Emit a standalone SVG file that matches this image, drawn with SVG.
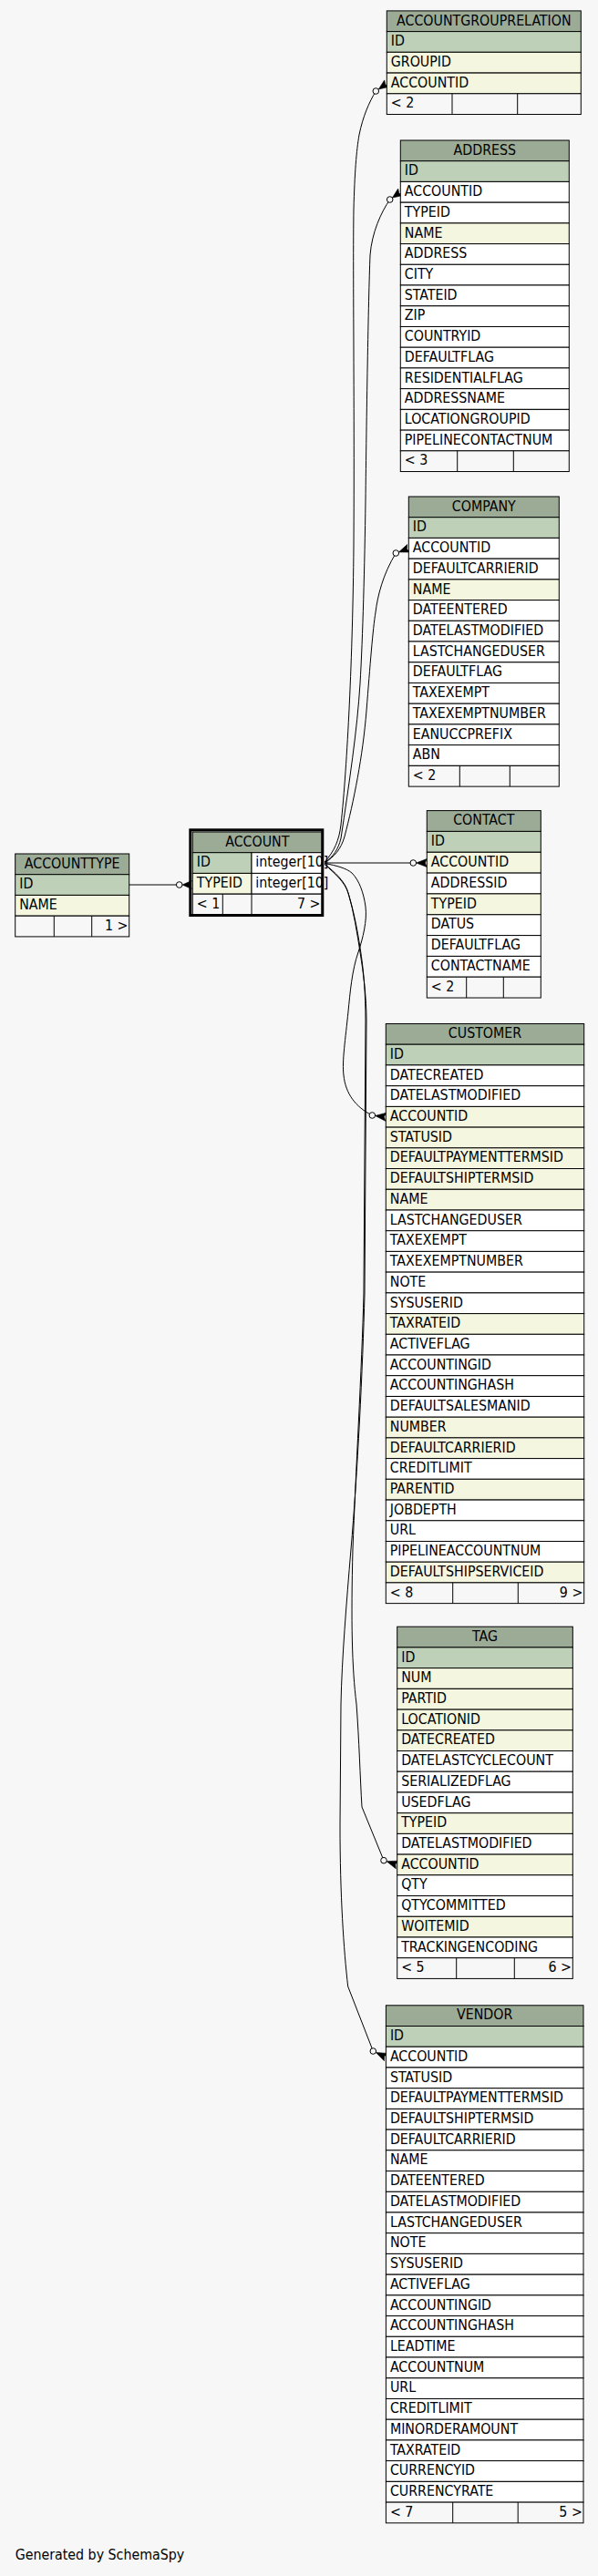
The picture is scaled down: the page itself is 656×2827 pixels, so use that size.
<svg xmlns="http://www.w3.org/2000/svg" width="656" height="2827" viewBox="0 0 656 2827">
<style>
rect{stroke:#000;stroke-width:1}
line{stroke:#000;stroke-width:1}
.h{fill:#9bab96}.k{fill:#bed1b8}.i{fill:#f4f6df}.w{fill:#fff}.f{fill:#f7f7f7}
text{font-family:"DejaVu Sans Condensed","DejaVu Sans",sans-serif;font-stretch:condensed;font-size:15.8px;fill:#000}
.c{text-anchor:middle}.r{text-anchor:end}
#edges path.l{fill:none;stroke:#000;stroke-width:1}
#edges path.cr{fill:#000;stroke:#000;stroke-width:0.6;stroke-linejoin:round}
#edges circle{fill:#f7f7f7;stroke:#000;stroke-width:1}
</style>
<rect x="0" y="0" width="656" height="2827" fill="#f7f7f7" style="stroke:none"/>

<g id="edges">
<path class="l" d="M141.7,971 L196.7,971"/>
<path class="l" d="M356,946 C367,934 372,922 374,905 C381,840 387,720 388,600 C389,450 387,300 388,230 C389,190 391,165 394,148 C398,128 405,112 412.3,100"/>
<path class="l" d="M356,946.5 C366,940 371,932 374,920 C383,860 392,800 395,750 C398,700 400,620 401,550 C402,460 404,330 406,280 C408,255 418,233 427.7,219"/>
<path class="l" d="M356,947 C367,940 374,932 378,918 C388,880 398,830 402,780 C406,730 409,690 412,672 C414,655 420,630 434.3,607"/>
<path class="l" d="M356,947 L453.3,947"/>
<path class="l" d="M356,947.5 C370,950 380,953 386,958 C394,966 399,980 401,995 C403,1010 398,1030 393,1045 C386,1065 384,1090 382,1110 C379,1140 375,1165 377,1180 C379,1200 390,1215 408.3,1224"/>
<path class="l" d="M356,948 C368,958 377,966 381,977 C387,995 392,1020 395,1040 C399,1065 401,1090 401,1120 L399,1420 C397,1500 390,1620 387,1700 C385,1780 386,1830 391,1870 C394,1910 395,1950 397,1983 L421,2041.7"/>
<path class="l" d="M356,948.5 C369,960 378,968 382,980 C388,1000 392,1025 395,1045 C399,1070 402,1095 402,1120 L400,1420 C398,1500 392,1620 385,1700 C380,1760 375,1820 374,1870 L373,2003 C373,2080 377,2140 381.7,2180 L409.3,2251"/>
<circle cx="196.7" cy="971" r="3.3"/>
<circle cx="412.3" cy="100" r="3.3"/>
<circle cx="427.7" cy="219" r="3.3"/>
<circle cx="434.3" cy="607" r="3.3"/>
<circle cx="453.3" cy="947" r="3.3"/>
<circle cx="408.3" cy="1224" r="3.3"/>
<circle cx="421" cy="2041.7" r="3.3"/>
<circle cx="409.3" cy="2251" r="3.3"/>
<path class="cr" d="M200,971 L210.3,975.5 L208.3,971 L210.3,966.5 Z"/>
<path class="cr" d="M415.3,97.9 L426.9,95.3 L422.7,92.7 L421.7,87.9 Z"/>
<path class="cr" d="M430.4,217.1 L441.9,214.5 L437.7,212 L436.7,207.1 Z"/>
<path class="cr" d="M437.4,605.9 L449.9,606 L446.4,602.5 L446.7,597.6 Z"/>
<path class="cr" d="M456.6,947 L468.3,951.5 L466.3,947 L468.3,942.5 Z"/>
<path class="cr" d="M411.6,1224.4 L422.8,1230.3 L421.3,1225.6 L423.8,1221.3 Z"/>
<path class="cr" d="M424.1,2042.7 L434.3,2050.8 L433.8,2045.9 L437.1,2042.2 Z"/>
<path class="cr" d="M412.3,2252.4 L421.5,2261.7 L421.6,2256.8 L425.3,2253.5 Z"/>
</g>

<g id="ACCOUNTGROUPRELATION">
<rect class="h" x="424.3" y="11.9" width="213" height="22.72"/>
<rect class="k" x="424.3" y="34.6" width="213" height="22.72"/>
<rect class="i" x="424.3" y="57.3" width="213" height="22.72"/>
<rect class="i" x="424.3" y="80.1" width="213" height="22.72"/>
<rect class="f" x="424.3" y="102.8" width="213" height="22.72"/>
<line x1="496" y1="102.8" x2="496" y2="125.5"/><line x1="567.7" y1="102.8" x2="567.7" y2="125.5"/>
<text class="c" x="530.8" y="27.5">ACCOUNTGROUPRELATION</text>
<text x="428.8" y="50.2">ID</text>
<text x="428.8" y="72.9">GROUPID</text>
<text x="428.8" y="95.7">ACCOUNTID</text>
<text x="428.8" y="118.4">&lt; 2</text>
</g>

<g id="ADDRESS">
<rect class="h" x="439.3" y="154" width="185" height="22.72"/>
<rect class="k" x="439.3" y="176.7" width="185" height="22.72"/>
<rect class="w" x="439.3" y="199.4" width="185" height="22.72"/>
<rect class="w" x="439.3" y="222.2" width="185" height="22.72"/>
<rect class="i" x="439.3" y="244.9" width="185" height="22.72"/>
<rect class="w" x="439.3" y="267.6" width="185" height="22.72"/>
<rect class="w" x="439.3" y="290.3" width="185" height="22.72"/>
<rect class="w" x="439.3" y="313" width="185" height="22.72"/>
<rect class="w" x="439.3" y="335.8" width="185" height="22.72"/>
<rect class="w" x="439.3" y="358.5" width="185" height="22.72"/>
<rect class="w" x="439.3" y="381.2" width="185" height="22.72"/>
<rect class="w" x="439.3" y="403.9" width="185" height="22.72"/>
<rect class="w" x="439.3" y="426.6" width="185" height="22.72"/>
<rect class="w" x="439.3" y="449.4" width="185" height="22.72"/>
<rect class="w" x="439.3" y="472.1" width="185" height="22.72"/>
<rect class="f" x="439.3" y="494.8" width="185" height="22.72"/>
<line x1="501.7" y1="494.8" x2="501.7" y2="517.5"/><line x1="563.3" y1="494.8" x2="563.3" y2="517.5"/>
<text class="c" x="531.8" y="169.6">ADDRESS</text>
<text x="443.8" y="192.3">ID</text>
<text x="443.8" y="215">ACCOUNTID</text>
<text x="443.8" y="237.8">TYPEID</text>
<text x="443.8" y="260.5">NAME</text>
<text x="443.8" y="283.2">ADDRESS</text>
<text x="443.8" y="305.9">CITY</text>
<text x="443.8" y="328.6">STATEID</text>
<text x="443.8" y="351.4">ZIP</text>
<text x="443.8" y="374.1">COUNTRYID</text>
<text x="443.8" y="396.8">DEFAULTFLAG</text>
<text x="443.8" y="419.5">RESIDENTIALFLAG</text>
<text x="443.8" y="442.2">ADDRESSNAME</text>
<text x="443.8" y="465">LOCATIONGROUPID</text>
<text x="443.8" y="487.7">PIPELINECONTACTNUM</text>
<text x="443.8" y="510.4">&lt; 3</text>
</g>

<g id="COMPANY">
<rect class="h" x="448.3" y="545" width="165" height="22.72"/>
<rect class="k" x="448.3" y="567.7" width="165" height="22.72"/>
<rect class="w" x="448.3" y="590.4" width="165" height="22.72"/>
<rect class="w" x="448.3" y="613.2" width="165" height="22.72"/>
<rect class="i" x="448.3" y="635.9" width="165" height="22.72"/>
<rect class="w" x="448.3" y="658.6" width="165" height="22.72"/>
<rect class="w" x="448.3" y="681.3" width="165" height="22.72"/>
<rect class="w" x="448.3" y="704" width="165" height="22.72"/>
<rect class="w" x="448.3" y="726.8" width="165" height="22.72"/>
<rect class="w" x="448.3" y="749.5" width="165" height="22.72"/>
<rect class="w" x="448.3" y="772.2" width="165" height="22.72"/>
<rect class="w" x="448.3" y="794.9" width="165" height="22.72"/>
<rect class="w" x="448.3" y="817.6" width="165" height="22.72"/>
<rect class="f" x="448.3" y="840.4" width="165" height="22.72"/>
<line x1="504.3" y1="840.4" x2="504.3" y2="863.1"/><line x1="559.3" y1="840.4" x2="559.3" y2="863.1"/>
<text class="c" x="530.8" y="560.6">COMPANY</text>
<text x="452.8" y="583.3">ID</text>
<text x="452.8" y="606">ACCOUNTID</text>
<text x="452.8" y="628.8">DEFAULTCARRIERID</text>
<text x="452.8" y="651.5">NAME</text>
<text x="452.8" y="674.2">DATEENTERED</text>
<text x="452.8" y="696.9">DATELASTMODIFIED</text>
<text x="452.8" y="719.6">LASTCHANGEDUSER</text>
<text x="452.8" y="742.4">DEFAULTFLAG</text>
<text x="452.8" y="765.1">TAXEXEMPT</text>
<text x="452.8" y="787.8">TAXEXEMPTNUMBER</text>
<text x="452.8" y="810.5">EANUCCPREFIX</text>
<text x="452.8" y="833.2">ABN</text>
<text x="452.8" y="856">&lt; 2</text>
</g>

<g id="ACCOUNTTYPE">
<rect class="h" x="16.7" y="937" width="125" height="22.72"/>
<rect class="k" x="16.7" y="959.7" width="125" height="22.72"/>
<rect class="i" x="16.7" y="982.4" width="125" height="22.72"/>
<rect class="f" x="16.7" y="1005.2" width="125" height="22.72"/>
<line x1="59.3" y1="1005.2" x2="59.3" y2="1027.9"/><line x1="100.7" y1="1005.2" x2="100.7" y2="1027.9"/>
<text class="c" x="79.2" y="952.6">ACCOUNTTYPE</text>
<text x="21.2" y="975.3">ID</text>
<text x="21.2" y="998">NAME</text>
<text class="r" x="140.5" y="1020.8">1 &gt;</text>
</g>

<g id="ACCOUNT">
<rect class="h" x="211.3" y="913" width="142" height="22.72"/>
<rect class="k" x="211.3" y="935.7" width="64.7" height="22.72"/>
<rect class="w" x="276" y="935.7" width="77.3" height="22.72"/>
<rect class="i" x="211.3" y="958.4" width="64.7" height="22.72"/>
<rect class="w" x="276" y="958.4" width="77.3" height="22.72"/>
<rect class="f" x="211.3" y="981.2" width="142" height="22.72"/>
<line x1="244.3" y1="981.2" x2="244.3" y2="1003.9"/><line x1="276" y1="981.2" x2="276" y2="1003.9"/>
<rect x="208.8" y="910.8" width="145" height="93.7" fill="none" style="stroke-width:3"/>
<text class="c" x="282.3" y="928.6">ACCOUNT</text>
<text x="215.8" y="951.3">ID</text>
<text x="280.3" y="951.3">integer[10]</text>
<text x="215.8" y="974">TYPEID</text>
<text x="280.3" y="974">integer[10]</text>
<text x="215.8" y="996.8">&lt; 1</text>
<text class="r" x="351.5" y="996.8">7 &gt;</text>
</g>

<g id="CONTACT">
<rect class="h" x="468.3" y="889.6" width="125" height="22.83"/>
<rect class="k" x="468.3" y="912.4" width="125" height="22.83"/>
<rect class="i" x="468.3" y="935.3" width="125" height="22.83"/>
<rect class="w" x="468.3" y="958.1" width="125" height="22.83"/>
<rect class="i" x="468.3" y="980.9" width="125" height="22.83"/>
<rect class="w" x="468.3" y="1003.8" width="125" height="22.83"/>
<rect class="w" x="468.3" y="1026.6" width="125" height="22.83"/>
<rect class="w" x="468.3" y="1049.4" width="125" height="22.83"/>
<rect class="f" x="468.3" y="1072.2" width="125" height="22.83"/>
<line x1="511.7" y1="1072.2" x2="511.7" y2="1095.1"/><line x1="552.3" y1="1072.2" x2="552.3" y2="1095.1"/>
<text class="c" x="530.8" y="905.2">CONTACT</text>
<text x="472.8" y="928">ID</text>
<text x="472.8" y="950.9">ACCOUNTID</text>
<text x="472.8" y="973.7">ADDRESSID</text>
<text x="472.8" y="996.5">TYPEID</text>
<text x="472.8" y="1019.4">DATUS</text>
<text x="472.8" y="1042.2">DEFAULTFLAG</text>
<text x="472.8" y="1065">CONTACTNAME</text>
<text x="472.8" y="1087.8">&lt; 2</text>
</g>

<g id="CUSTOMER">
<rect class="h" x="423.3" y="1123.5" width="217.4" height="22.72"/>
<rect class="k" x="423.3" y="1146.2" width="217.4" height="22.72"/>
<rect class="w" x="423.3" y="1168.9" width="217.4" height="22.72"/>
<rect class="w" x="423.3" y="1191.7" width="217.4" height="22.72"/>
<rect class="i" x="423.3" y="1214.4" width="217.4" height="22.72"/>
<rect class="i" x="423.3" y="1237.1" width="217.4" height="22.72"/>
<rect class="i" x="423.3" y="1259.8" width="217.4" height="22.72"/>
<rect class="i" x="423.3" y="1282.5" width="217.4" height="22.72"/>
<rect class="i" x="423.3" y="1305.3" width="217.4" height="22.72"/>
<rect class="w" x="423.3" y="1328" width="217.4" height="22.72"/>
<rect class="w" x="423.3" y="1350.7" width="217.4" height="22.72"/>
<rect class="w" x="423.3" y="1373.4" width="217.4" height="22.72"/>
<rect class="w" x="423.3" y="1396.1" width="217.4" height="22.72"/>
<rect class="w" x="423.3" y="1418.9" width="217.4" height="22.72"/>
<rect class="i" x="423.3" y="1441.6" width="217.4" height="22.72"/>
<rect class="w" x="423.3" y="1464.3" width="217.4" height="22.72"/>
<rect class="w" x="423.3" y="1487" width="217.4" height="22.72"/>
<rect class="w" x="423.3" y="1509.7" width="217.4" height="22.72"/>
<rect class="w" x="423.3" y="1532.5" width="217.4" height="22.72"/>
<rect class="i" x="423.3" y="1555.2" width="217.4" height="22.72"/>
<rect class="i" x="423.3" y="1577.9" width="217.4" height="22.72"/>
<rect class="w" x="423.3" y="1600.6" width="217.4" height="22.72"/>
<rect class="i" x="423.3" y="1623.3" width="217.4" height="22.72"/>
<rect class="w" x="423.3" y="1646.1" width="217.4" height="22.72"/>
<rect class="w" x="423.3" y="1668.8" width="217.4" height="22.72"/>
<rect class="w" x="423.3" y="1691.5" width="217.4" height="22.72"/>
<rect class="i" x="423.3" y="1714.2" width="217.4" height="22.72"/>
<rect class="f" x="423.3" y="1736.9" width="217.4" height="22.72"/>
<line x1="496.7" y1="1736.9" x2="496.7" y2="1759.7"/><line x1="568.3" y1="1736.9" x2="568.3" y2="1759.7"/>
<text class="c" x="532" y="1139.1">CUSTOMER</text>
<text x="427.8" y="1161.8">ID</text>
<text x="427.8" y="1184.5">DATECREATED</text>
<text x="427.8" y="1207.3">DATELASTMODIFIED</text>
<text x="427.8" y="1230">ACCOUNTID</text>
<text x="427.8" y="1252.7">STATUSID</text>
<text x="427.8" y="1275.4">DEFAULTPAYMENTTERMSID</text>
<text x="427.8" y="1298.1">DEFAULTSHIPTERMSID</text>
<text x="427.8" y="1320.9">NAME</text>
<text x="427.8" y="1343.6">LASTCHANGEDUSER</text>
<text x="427.8" y="1366.3">TAXEXEMPT</text>
<text x="427.8" y="1389">TAXEXEMPTNUMBER</text>
<text x="427.8" y="1411.7">NOTE</text>
<text x="427.8" y="1434.5">SYSUSERID</text>
<text x="427.8" y="1457.2">TAXRATEID</text>
<text x="427.8" y="1479.9">ACTIVEFLAG</text>
<text x="427.8" y="1502.6">ACCOUNTINGID</text>
<text x="427.8" y="1525.3">ACCOUNTINGHASH</text>
<text x="427.8" y="1548.1">DEFAULTSALESMANID</text>
<text x="427.8" y="1570.8">NUMBER</text>
<text x="427.8" y="1593.5">DEFAULTCARRIERID</text>
<text x="427.8" y="1616.2">CREDITLIMIT</text>
<text x="427.8" y="1638.9">PARENTID</text>
<text x="427.8" y="1661.7">JOBDEPTH</text>
<text x="427.8" y="1684.4">URL</text>
<text x="427.8" y="1707.1">PIPELINEACCOUNTNUM</text>
<text x="427.8" y="1729.8">DEFAULTSHIPSERVICEID</text>
<text x="427.8" y="1752.5">&lt; 8</text>
<text class="r" x="639.3" y="1752.5">9 &gt;</text>
</g>

<g id="TAG">
<rect class="h" x="435.7" y="1785.2" width="192.6" height="22.72"/>
<rect class="k" x="435.7" y="1807.9" width="192.6" height="22.72"/>
<rect class="i" x="435.7" y="1830.6" width="192.6" height="22.72"/>
<rect class="i" x="435.7" y="1853.4" width="192.6" height="22.72"/>
<rect class="i" x="435.7" y="1876.1" width="192.6" height="22.72"/>
<rect class="i" x="435.7" y="1898.8" width="192.6" height="22.72"/>
<rect class="w" x="435.7" y="1921.5" width="192.6" height="22.72"/>
<rect class="w" x="435.7" y="1944.2" width="192.6" height="22.72"/>
<rect class="w" x="435.7" y="1967" width="192.6" height="22.72"/>
<rect class="i" x="435.7" y="1989.7" width="192.6" height="22.72"/>
<rect class="w" x="435.7" y="2012.4" width="192.6" height="22.72"/>
<rect class="i" x="435.7" y="2035.1" width="192.6" height="22.72"/>
<rect class="w" x="435.7" y="2057.8" width="192.6" height="22.72"/>
<rect class="w" x="435.7" y="2080.6" width="192.6" height="22.72"/>
<rect class="i" x="435.7" y="2103.3" width="192.6" height="22.72"/>
<rect class="w" x="435.7" y="2126" width="192.6" height="22.72"/>
<rect class="f" x="435.7" y="2148.7" width="192.6" height="22.72"/>
<line x1="500.7" y1="2148.7" x2="500.7" y2="2171.4"/><line x1="564.3" y1="2148.7" x2="564.3" y2="2171.4"/>
<text class="c" x="532" y="1800.8">TAG</text>
<text x="440.2" y="1823.5">ID</text>
<text x="440.2" y="1846.2">NUM</text>
<text x="440.2" y="1869">PARTID</text>
<text x="440.2" y="1891.7">LOCATIONID</text>
<text x="440.2" y="1914.4">DATECREATED</text>
<text x="440.2" y="1937.1">DATELASTCYCLECOUNT</text>
<text x="440.2" y="1959.8">SERIALIZEDFLAG</text>
<text x="440.2" y="1982.6">USEDFLAG</text>
<text x="440.2" y="2005.3">TYPEID</text>
<text x="440.2" y="2028">DATELASTMODIFIED</text>
<text x="440.2" y="2050.7">ACCOUNTID</text>
<text x="440.2" y="2073.4">QTY</text>
<text x="440.2" y="2096.2">QTYCOMMITTED</text>
<text x="440.2" y="2118.9">WOITEMID</text>
<text x="440.2" y="2141.6">TRACKINGENCODING</text>
<text x="440.2" y="2164.3">&lt; 5</text>
<text class="r" x="627" y="2164.3">6 &gt;</text>
</g>

<g id="VENDOR">
<rect class="h" x="423.4" y="2200.8" width="216.6" height="22.72"/>
<rect class="k" x="423.4" y="2223.5" width="216.6" height="22.72"/>
<rect class="w" x="423.4" y="2246.2" width="216.6" height="22.72"/>
<rect class="w" x="423.4" y="2269" width="216.6" height="22.72"/>
<rect class="w" x="423.4" y="2291.7" width="216.6" height="22.72"/>
<rect class="w" x="423.4" y="2314.4" width="216.6" height="22.72"/>
<rect class="w" x="423.4" y="2337.1" width="216.6" height="22.72"/>
<rect class="w" x="423.4" y="2359.8" width="216.6" height="22.72"/>
<rect class="w" x="423.4" y="2382.6" width="216.6" height="22.72"/>
<rect class="w" x="423.4" y="2405.3" width="216.6" height="22.72"/>
<rect class="w" x="423.4" y="2428" width="216.6" height="22.72"/>
<rect class="w" x="423.4" y="2450.7" width="216.6" height="22.72"/>
<rect class="w" x="423.4" y="2473.4" width="216.6" height="22.72"/>
<rect class="w" x="423.4" y="2496.2" width="216.6" height="22.72"/>
<rect class="w" x="423.4" y="2518.9" width="216.6" height="22.72"/>
<rect class="w" x="423.4" y="2541.6" width="216.6" height="22.72"/>
<rect class="w" x="423.4" y="2564.3" width="216.6" height="22.72"/>
<rect class="w" x="423.4" y="2587" width="216.6" height="22.72"/>
<rect class="w" x="423.4" y="2609.8" width="216.6" height="22.72"/>
<rect class="w" x="423.4" y="2632.5" width="216.6" height="22.72"/>
<rect class="w" x="423.4" y="2655.2" width="216.6" height="22.72"/>
<rect class="w" x="423.4" y="2677.9" width="216.6" height="22.72"/>
<rect class="w" x="423.4" y="2700.6" width="216.6" height="22.72"/>
<rect class="w" x="423.4" y="2723.4" width="216.6" height="22.72"/>
<rect class="f" x="423.4" y="2746.1" width="216.6" height="22.72"/>
<line x1="496.7" y1="2746.1" x2="496.7" y2="2768.8"/><line x1="568.2" y1="2746.1" x2="568.2" y2="2768.8"/>
<text class="c" x="531.7" y="2216.4">VENDOR</text>
<text x="427.9" y="2239.1">ID</text>
<text x="427.9" y="2261.8">ACCOUNTID</text>
<text x="427.9" y="2284.6">STATUSID</text>
<text x="427.9" y="2307.3">DEFAULTPAYMENTTERMSID</text>
<text x="427.9" y="2330">DEFAULTSHIPTERMSID</text>
<text x="427.9" y="2352.7">DEFAULTCARRIERID</text>
<text x="427.9" y="2375.4">NAME</text>
<text x="427.9" y="2398.2">DATEENTERED</text>
<text x="427.9" y="2420.9">DATELASTMODIFIED</text>
<text x="427.9" y="2443.6">LASTCHANGEDUSER</text>
<text x="427.9" y="2466.3">NOTE</text>
<text x="427.9" y="2489">SYSUSERID</text>
<text x="427.9" y="2511.8">ACTIVEFLAG</text>
<text x="427.9" y="2534.5">ACCOUNTINGID</text>
<text x="427.9" y="2557.2">ACCOUNTINGHASH</text>
<text x="427.9" y="2579.9">LEADTIME</text>
<text x="427.9" y="2602.6">ACCOUNTNUM</text>
<text x="427.9" y="2625.4">URL</text>
<text x="427.9" y="2648.1">CREDITLIMIT</text>
<text x="427.9" y="2670.8">MINORDERAMOUNT</text>
<text x="427.9" y="2693.5">TAXRATEID</text>
<text x="427.9" y="2716.2">CURRENCYID</text>
<text x="427.9" y="2739">CURRENCYRATE</text>
<text x="427.9" y="2761.7">&lt; 7</text>
<text class="r" x="638.8" y="2761.7">5 &gt;</text>
</g>

<text x="16.7" y="2809">Generated by SchemaSpy</text>
</svg>
